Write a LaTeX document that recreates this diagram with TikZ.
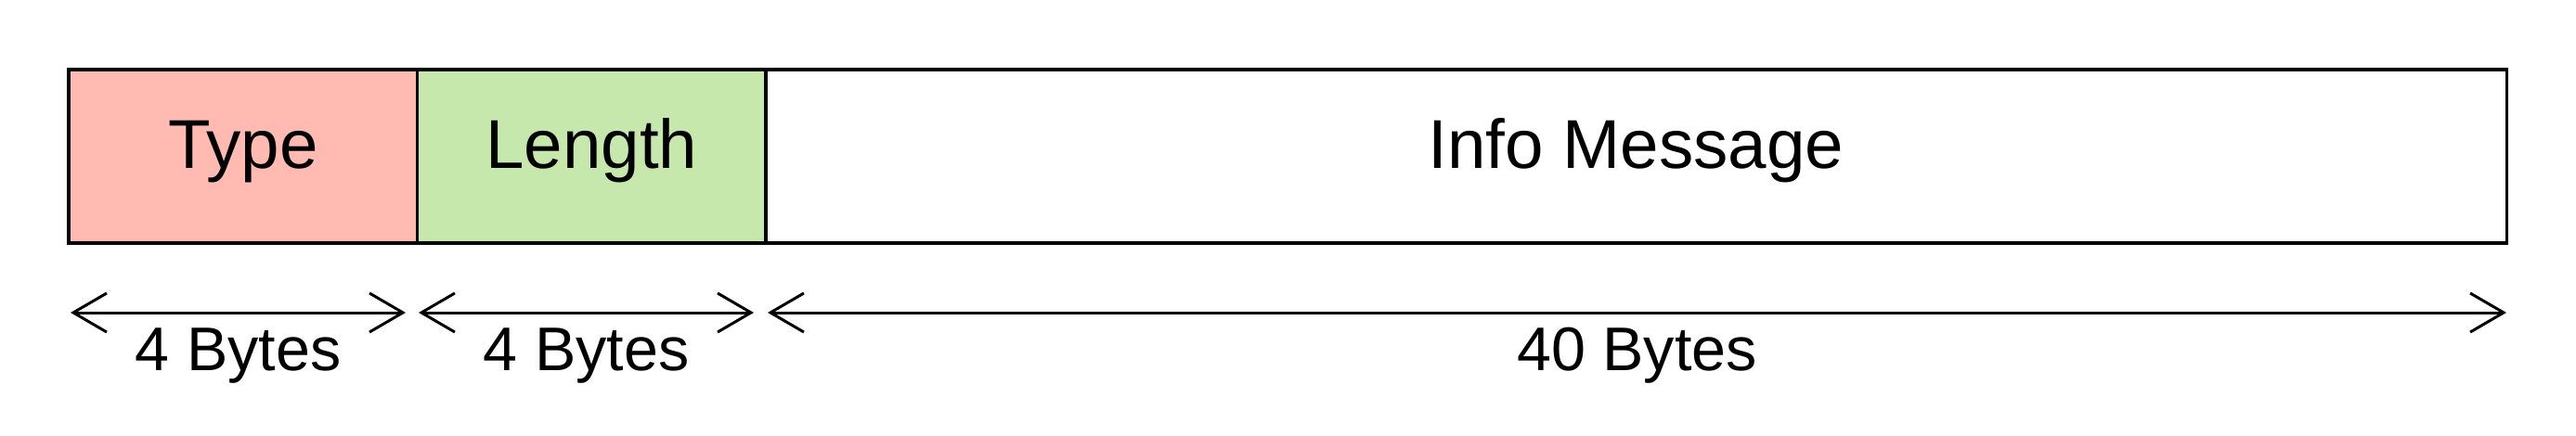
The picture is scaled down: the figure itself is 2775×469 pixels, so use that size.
\documentclass[tikz,border=0pt]{standalone}
\usepackage{fontspec}
\setmainfont{Liberation Sans}
\usetikzlibrary{arrows.meta}
\definecolor{typered}{RGB}{255,187,177}
\definecolor{lengreen}{RGB}{199,232,172}
\tikzset{
  field/.style={draw, rectangle, line width=1pt, outer sep=0pt, minimum height=1.87cm,
    text height=0.53cm, text depth=0.28cm, font=\fontsize{21.2}{24}\selectfont},
  span/.style={{Straight Barb[length=0.36cm, width=0.42cm]}-{Straight Barb[length=0.36cm, width=0.42cm]}, line width=0.85pt},
  size/.style={anchor=base, font=\fontsize{18.9}{22}\selectfont}
}
\begin{document}
\begin{tikzpicture}[x=0.01cm, y=-0.01cm]
\useasboundingbox (0,0) rectangle (2775,469);
\node[field, fill=typered, minimum width=3.755cm] (T) at (262,168.5) {Type};
\node[field, fill=lengreen, minimum width=3.755cm] (L) at (637.25,168.5) {Length};
\node[field, minimum width=18.75cm] (M) at (1762.5,168.5) {Info Message};
\coordinate (t1) at (76,337);
\coordinate (t2) at (437,337);
\coordinate (l1) at (451,337);
\coordinate (l2) at (812,337);
\coordinate (m1) at (827,337);
\coordinate (m2) at (2700,337);
\draw[span] (t1) -- (t2);
\draw[span] (l1) -- (l2);
\draw[span] (m1) -- (m2);
\node[size] (tb) at (256.5,399) {4 Bytes};
\node[size] (lb) at (631.5,399) {4 Bytes};
\node[size] (mb) at (1763.5,399) {40 Bytes};
\end{tikzpicture}
\end{document}
